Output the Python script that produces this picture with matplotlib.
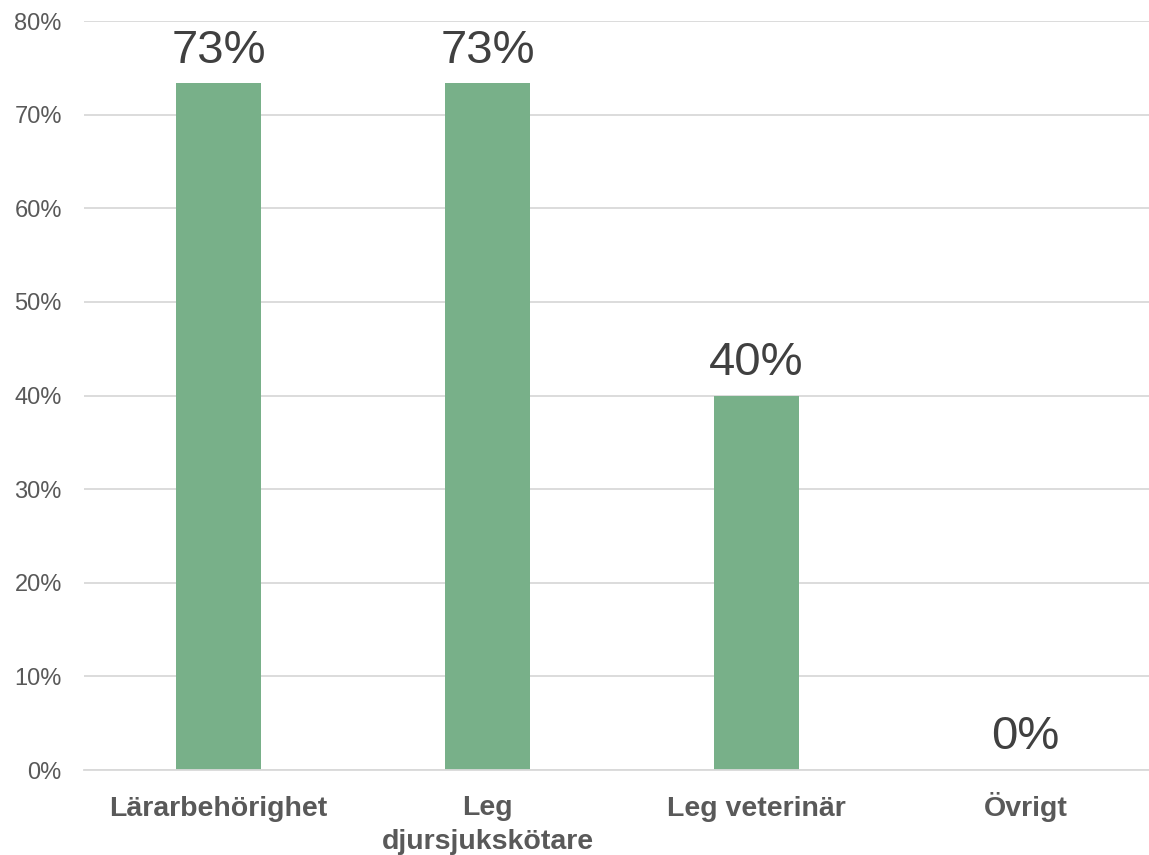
import matplotlib
matplotlib.use("Agg")
import matplotlib.pyplot as plt
from matplotlib.ticker import FuncFormatter, MultipleLocator

categories = ["Lärarbehörighet", "Leg\ndjursjukskötare", "Leg veterinär", "Övrigt"]
values = [0.7333, 0.7333, 0.40, 0.0]
labels = ["73%", "73%", "40%", "0%"]

plt.rcParams['font.family'] = ['Liberation Sans', 'DejaVu Sans']

W, H = 1149, 855
fig = plt.figure(figsize=(W / 100, H / 100), dpi=100)
ax = fig.add_axes([84 / W, (H - 770) / H, 1076 / W, 749 / H])

x = list(range(len(categories)))
bars = ax.bar(x, values, width=0.316, color="#78B089", zorder=3)

ax.set_xlim(-0.5, 3.5)
ax.set_ylim(0, 0.8)
ax.yaxis.set_major_locator(MultipleLocator(0.1))
ax.yaxis.set_major_formatter(FuncFormatter(lambda v, p: f"{round(v * 100):d}%"))
ax.grid(axis="y", color="#D9D9D9", linewidth=1.3, zorder=0)
ax.set_axisbelow(True)
for s in ["top", "right", "left"]:
    ax.spines[s].set_visible(False)
ax.spines["bottom"].set_color("#D9D9D9")
ax.spines["bottom"].set_linewidth(1.3)
ax.spines["bottom"].set_zorder(4)

ax.tick_params(axis="y", length=0, labelsize=17, labelcolor="#595959", pad=16)
ax.tick_params(axis="x", length=0)
ax.set_xticks(x)
ax.set_xticklabels([])

# category labels: first-line baseline ~46 px below the axis, line pitch ~33 px
line_pitch_pt = 33 * 72 / 100
base_pt = 46 * 72 / 100
for xi, cat in zip(x, categories):
    nlines = cat.count("\n") + 1
    ax.annotate(cat, (xi, 0), xycoords=ax.get_xaxis_transform(),
                xytext=(0, -(base_pt + (nlines - 1) * line_pitch_pt)),
                textcoords="offset points", ha="center", va="baseline",
                fontsize=20.5, fontweight="bold", color="#595959",
                linespacing=1.38, multialignment="center", annotation_clip=False)

for xi, v, lab in zip(x, values, labels):
    ax.annotate(lab, (xi, v), xytext=(0, 15), textcoords="offset points",
                ha="center", va="baseline", fontsize=34, color="#404040")

fig.savefig("out.png", dpi=100)
